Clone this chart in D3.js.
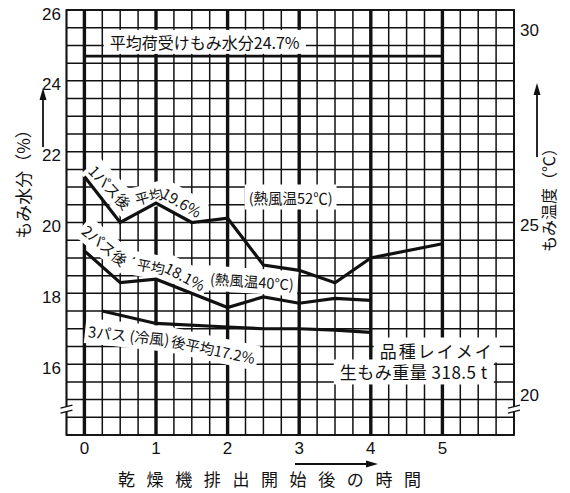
<!DOCTYPE html>
<html>
<head>
<meta charset="utf-8">
<script src="https://cdn.jsdelivr.net/npm/d3@7/dist/d3.min.js"></script>
<style>
  html, body { margin: 0; padding: 0; background: #fff; }
  svg { display: block; }
  text { fill: #111; }
  .jp { font-family: "Noto Sans CJK JP", "Noto Sans", sans-serif; }
  .num { font-family: "Liberation Sans", "DejaVu Sans", sans-serif; }
</style>
</head>
<body>
<svg id="chart" width="570" height="493"></svg>
<script>
// Hours after the dryer began discharging
const pass1Hours = [0, 0.5, 1, 1.5, 2, 2.5, 3, 3.5, 4, 5];
const pass1Moisture = [21.3, 20.0, 20.55, 20.0, 20.12, 18.8, 18.65, 18.3, 19.0, 19.4];

const pass2Hours = [0, 0.5, 1, 2, 2.5, 3, 3.5, 4];
const pass2Moisture = [19.2, 18.3, 18.4, 17.6, 17.9, 17.72, 17.86, 17.8];

const pass3Hours = [0.25, 1, 2, 2.5, 3, 3.5, 4];
const pass3Moisture = [17.5, 17.15, 17.05, 17.0, 17.0, 16.96, 16.9];

// Average moisture of the paddy on receipt
const intakeHours = [0, 5];
const intakeMoisture = [24.7, 24.7];

const xTicks = [0, 1, 2, 3, 4, 5];
const moistureTicks = [26, 24, 22, 20, 18, 16];
const tempTicks = [30, 25, 20];

const svg = d3.select("#chart");
const W = 570, H = 493;
svg.append("rect").attr("width", W).attr("height", H).attr("fill", "#fff");

const x = d3.scaleLinear().domain([-0.25, 6]).range([66.5, 514]);
const y = d3.scaleLinear().domain([14, 26]).range([435, 10]);
// paddy temperature scale printed on the right-hand side
const yTemp = d3.scaleLinear().domain([20, 25, 30]).range([y(15), y(20), y(25.5)]);

// ---- grid ----
const grid = svg.append("g");
const vLines = d3.range(-0.25, 6.001, 0.25);
const hLines = d3.range(14, 26.001, 0.5);
grid.selectAll("line.h").data(hLines).join("line")
  .attr("x1", x(-0.25)).attr("x2", x(6))
  .attr("y1", d => y(d)).attr("y2", d => y(d))
  .attr("stroke", "#111").attr("stroke-width", 1.5);
grid.selectAll("line.v").data(vLines).join("line")
  .attr("x1", d => x(d)).attr("x2", d => x(d))
  .attr("y1", y(26)).attr("y2", y(14))
  .attr("stroke", "#111")
  .attr("stroke-width", d => (Math.abs(d - Math.round(d)) < 1e-6 && d >= 0 && d <= 5) ? 3.4 : 1.5);
grid.append("rect")
  .attr("x", x(-0.25)).attr("y", y(26))
  .attr("width", x(6) - x(-0.25)).attr("height", y(14) - y(26))
  .attr("fill", "none").attr("stroke", "#111").attr("stroke-width", 1.8);

// ---- label boxes (white panels that interrupt the grid) ----
const boxLayer = svg.append("g");
const lineLayer = svg.append("g");
const textLayer = svg.append("g");

function label(txt, h, m, opts) {
  const o = Object.assign({ rotate: 0, size: 15, padX: 3, padY: 2, cls: "jp", ls: 0 }, opts || {});
  const tf = `translate(${x(h)},${y(m)}) rotate(${o.rotate})`;
  const t = textLayer.append("text")
    .attr("class", o.cls)
    .attr("transform", tf)
    .attr("text-anchor", "middle")
    .attr("dominant-baseline", "central")
    .style("font-size", o.size + "px")
    .style("letter-spacing", o.ls + "px")
    .text(txt);
  const b = t.node().getBBox();
  boxLayer.append("rect")
    .attr("transform", tf)
    .attr("x", b.x - o.padX).attr("y", b.y - o.padY)
    .attr("width", b.width + 2 * o.padX).attr("height", b.height + 2 * o.padY)
    .attr("fill", "#fff");
}

label("平均荷受けもみ水分24.7%", 1.68, 25.1, { size: 16, padX: 6, padY: 0 });
label("1パス後", 0.36, 21.0, { rotate: 47, size: 15 });
label("平均", 0.90, 20.75, { rotate: -15, size: 14 });
label("19.6%", 1.36, 20.58, { rotate: 30, size: 15 });
label("(熱風温52℃)", 2.88, 20.72, { size: 14.5, padX: 4 });
label("2パス後", 0.29, 19.36, { rotate: 40, size: 15 });
label("平均", 0.93, 18.77, { rotate: 10, size: 14 });
label("18.1%", 1.41, 18.49, { rotate: 28, size: 15 });
label("(熱風温40℃)", 2.34, 18.35, { rotate: 4, size: 14.5, padX: 4 });
label("3パス (冷風)", 0.62, 16.82, { rotate: 6, size: 15 });
label("後平均17.2%", 1.80, 16.43, { rotate: 12, size: 14.5 });
label("品種レイメイ", 4.92, 16.40, { size: 17, ls: 2, padX: 6, padY: 0 });
label("生もみ重量 318.5 t", 4.60, 15.78, { size: 17, ls: 0.5, padX: 6, padY: 0 });

// ---- data lines ----
const line = d3.line().x(d => x(d[0])).y(d => y(d[1]));
const series = [
  d3.zip(intakeHours, intakeMoisture),
  d3.zip(pass1Hours, pass1Moisture),
  d3.zip(pass2Hours, pass2Moisture),
  d3.zip(pass3Hours, pass3Moisture)
];
lineLayer.selectAll("path").data(series).join("path")
  .attr("d", line)
  .attr("fill", "none").attr("stroke", "#111")
  .attr("stroke-width", (d, i) => i === 0 ? 2.8 : 3.2)
  .attr("stroke-linejoin", "miter");

// ---- axis labels ----
const axes = svg.append("g");
axes.selectAll("text.ly").data(moistureTicks).join("text")
  .attr("class", "num")
  .attr("x", 61).attr("y", d => y(d) + 4)
  .attr("text-anchor", "end").attr("dominant-baseline", "central")
  .style("font-size", "17px").text(d => d);
axes.selectAll("text.ry").data(tempTicks).join("text")
  .attr("class", "num")
  .attr("x", 520).attr("y", d => yTemp(d) + (d === 20 ? -4 : 3))
  .attr("text-anchor", "start").attr("dominant-baseline", "central")
  .style("font-size", "17px").text(d => d);
axes.selectAll("text.xt").data(xTicks).join("text")
  .attr("class", "num")
  .attr("x", d => x(d)).attr("y", 448)
  .attr("text-anchor", "middle").attr("dominant-baseline", "central")
  .style("font-size", "17px").text(d => d);

// axis titles
axes.append("text").attr("class", "jp")
  .attr("transform", "translate(22,180) rotate(-90)")
  .attr("text-anchor", "middle").attr("dominant-baseline", "central")
  .style("font-size", "17px").text("もみ水分（%）");
axes.append("text").attr("class", "jp")
  .attr("transform", "translate(548,196) rotate(-90)")
  .attr("text-anchor", "middle").attr("dominant-baseline", "central")
  .style("font-size", "16px").text("もみ温度（℃）");
axes.append("text").attr("class", "jp")
  .attr("x", 118).attr("y", 478)
  .attr("dominant-baseline", "central")
  .style("font-size", "17px").style("letter-spacing", "11.6px")
  .text("乾燥機排出開始後の時間");

// arrows
function arrow(x1, y1, x2, y2) {
  const ang = Math.atan2(y2 - y1, x2 - x1);
  const len = 12, half = 3.5;
  const bx = x2 - len * Math.cos(ang), by = y2 - len * Math.sin(ang);
  axes.append("line").attr("x1", x1).attr("y1", y1).attr("x2", bx).attr("y2", by)
    .attr("stroke", "#111").attr("stroke-width", 1.8);
  axes.append("path")
    .attr("d", `M${x2},${y2}L${bx + half * Math.sin(ang)},${by - half * Math.cos(ang)}L${bx - half * Math.sin(ang)},${by + half * Math.cos(ang)}Z`)
    .attr("fill", "#111");
}
arrow(43, 147, 43, 88);
arrow(537, 157, 537, 83);
arrow(295, 464, 378, 464);

// axis break marks
function breakMark(cx, cy) {
  axes.append("rect").attr("x", cx - 2).attr("y", cy - 2.5).attr("width", 4).attr("height", 5).attr("fill", "#fff");
  [-2.5, 2.5].forEach(dy => {
    axes.append("line")
      .attr("x1", cx - 6).attr("y1", cy + dy + 1.5)
      .attr("x2", cx + 6).attr("y2", cy + dy - 1.5)
      .attr("stroke", "#111").attr("stroke-width", 1.4);
  });
}
breakMark(x(-0.25), y(14.73));
breakMark(x(6), y(14.73));
</script>
</body>
</html>
